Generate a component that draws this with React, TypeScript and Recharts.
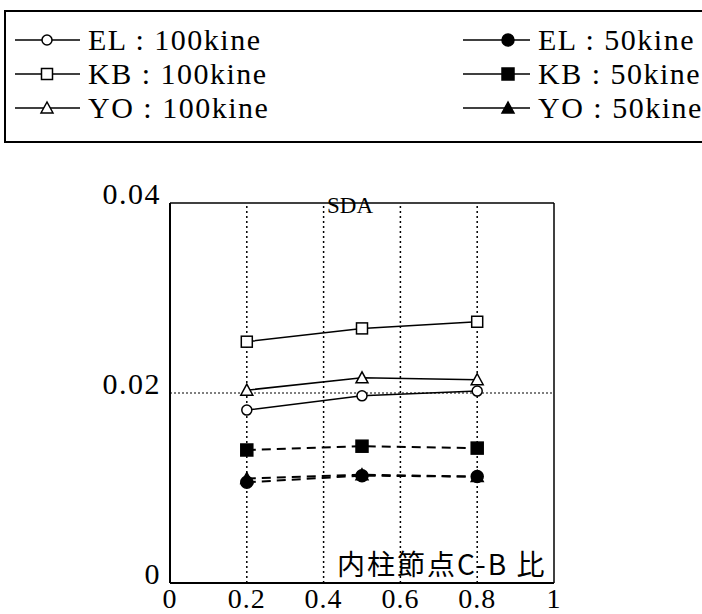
import { LineChart, Line, XAxis, YAxis, ReferenceLine } from "recharts";

// C-B ratio of the interior joint
const ratios = [0.2, 0.5, 0.8];

// SDA values per record / input level
const el100 = [0.0182, 0.0197, 0.0202];
const kb100 = [0.0254, 0.0268, 0.0275];
const yo100 = [0.0203, 0.0216, 0.0214];
const el50 = [0.0106, 0.0113, 0.0112];
const kb50 = [0.014, 0.0144, 0.0142];
const yo50 = [0.011, 0.0114, 0.0112];

const xTicks = [0, 0.2, 0.4, 0.6, 0.8, 1];
const yTicks = [0, 0.02, 0.04];
const gridX = [0.2, 0.4, 0.6, 0.8];

type Shape = "circle" | "square" | "triangle";

const series = [
  { key: "el100", name: "EL : 100kine", values: el100, shape: "circle" as Shape, filled: false },
  { key: "kb100", name: "KB : 100kine", values: kb100, shape: "square" as Shape, filled: false },
  { key: "yo100", name: "YO : 100kine", values: yo100, shape: "triangle" as Shape, filled: false },
  { key: "el50", name: "EL : 50kine", values: el50, shape: "circle" as Shape, filled: true },
  { key: "kb50", name: "KB : 50kine", values: kb50, shape: "square" as Shape, filled: true },
  { key: "yo50", name: "YO : 50kine", values: yo50, shape: "triangle" as Shape, filled: true },
];

const data = ratios.map((x, i) => {
  const row: Record<string, number> = { x };
  series.forEach((s) => (row[s.key] = s.values[i]));
  return row;
});

// draw order: triangles of the 50kine group sit under the circles
const drawOrder = [...series].reverse();

const SERIF = "'Liberation Serif', 'Times New Roman', serif";

function Marker({ cx, cy, shape, filled }: { cx: number; cy: number; shape: Shape; filled: boolean }) {
  const fill = filled ? "#000" : "#fff";
  if (shape === "circle") {
    return <circle cx={cx} cy={cy} r={filled ? 6 : 5} fill={fill} stroke="#000" strokeWidth={1.5} />;
  }
  if (shape === "square") {
    const s = filled ? 12 : 11;
    return <rect x={cx - s / 2} y={cy - s / 2} width={s} height={s} fill={fill} stroke="#000" strokeWidth={1.5} />;
  }
  const h = 10;
  return (
    <polygon
      points={`${cx},${cy - h / 2 - 1} ${cx - h / 2 - 1},${cy + h / 2} ${cx + h / 2 + 1},${cy + h / 2}`}
      fill={fill}
      stroke="#000"
      strokeWidth={1.5}
    />
  );
}

function LegendBox() {
  const rowsY = [40, 74, 108];
  const cols = [
    { lineX: 15, lineEnd: 80, markX: 47, textX: 88 },
    { lineX: 463, lineEnd: 530, markX: 508, textX: 538 },
  ];
  return (
    <svg width={702} height={150} style={{ position: "absolute", left: 0, top: 0 }}>
      <rect x={5} y={11} width={710} height={131} fill="none" stroke="#000" strokeWidth={2} />
      {series.map((s, i) => {
        const c = cols[i < 3 ? 0 : 1];
        const y = rowsY[i % 3];
        return (
          <g key={s.key}>
            <line x1={c.lineX} x2={c.lineEnd} y1={y} y2={y} stroke="#000" strokeWidth={1.3} />
            <Marker cx={c.markX} cy={y} shape={s.shape} filled={s.filled} />
            <text x={c.textX} y={y + 10} fontFamily={SERIF} fontSize={30} fill="#000" letterSpacing={1.5}>
              {s.name}
            </text>
          </g>
        );
      })}
    </svg>
  );
}

const XTick = (props: any) => {
  const { x, payload } = props;
  const v = payload.value;
  const label = v === 0 ? "0" : v === 1 ? "1" : String(v);
  return (
    <text x={x} y={608} textAnchor="middle" fontFamily={SERIF} fontSize={28} fill="#000" letterSpacing={1}>
      {label}
    </text>
  );
};

const YTick = (props: any) => {
  const { x, y, payload } = props;
  const v = payload.value;
  const label = v === 0 ? "0" : v.toFixed(2);
  return (
    <text x={x - 1} y={y + 1} textAnchor="end" fontFamily={SERIF} fontSize={30} fill="#000" letterSpacing={1.5}>
      {label}
    </text>
  );
};

export default function App() {
  return (
    <div style={{ position: "absolute", left: 0, top: 0, width: 702, height: 614, background: "#fff" }}>
      <LineChart width={702} height={614} data={data} margin={{ top: 203, right: 148, bottom: 0, left: 0 }}>
        <XAxis
          type="number"
          dataKey="x"
          domain={[0, 1]}
          ticks={xTicks}
          height={31}
          axisLine={{ stroke: "#000", strokeWidth: 2 }}
          tickLine={false}
          tick={<XTick />}
        />
        <YAxis
          type="number"
          domain={[0, 0.04]}
          ticks={yTicks}
          width={170}
          axisLine={{ stroke: "#000", strokeWidth: 2 }}
          tickLine={false}
          tick={<YTick />}
        />
        {gridX.map((gx) => (
          <ReferenceLine key={gx} x={gx} stroke="#000" strokeWidth={1.5} strokeDasharray="2 3" />
        ))}
        <ReferenceLine y={0.02} stroke="#000" strokeWidth={1.2} strokeDasharray="2 2" />
        <ReferenceLine y={0.04} stroke="#000" strokeWidth={1.5} />
        <ReferenceLine x={1} stroke="#000" strokeWidth={1.5} />
        {drawOrder.map((s) => (
          <Line
            key={s.key}
            dataKey={s.key}
            name={s.name}
            type="linear"
            stroke="#000"
            strokeWidth={s.filled ? 2 : 1.5}
            strokeDasharray={s.filled ? "9 6" : undefined}
            isAnimationActive={false}
            dot={(p: any) => <Marker key={`${s.key}-${p.index}`} cx={p.cx} cy={p.cy} shape={s.shape} filled={s.filled} />}
            activeDot={false}
          />
        ))}
      </LineChart>
      <LegendBox />
      <div
        style={{
          position: "absolute",
          left: 327,
          top: 193,
          fontFamily: SERIF,
          fontSize: 23,
          lineHeight: "26px",
          color: "#000",
        }}
      >
        SDA
      </div>
      <div
        style={{
          position: "absolute",
          left: 337,
          top: 549,
          fontFamily: "'Noto Sans CJK JP', sans-serif",
          fontSize: 28,
          lineHeight: "28px",
          letterSpacing: 2,
          color: "#000",
          whiteSpace: "nowrap",
        }}
      >
        内柱節点C-B 比
      </div>
    </div>
  );
}
